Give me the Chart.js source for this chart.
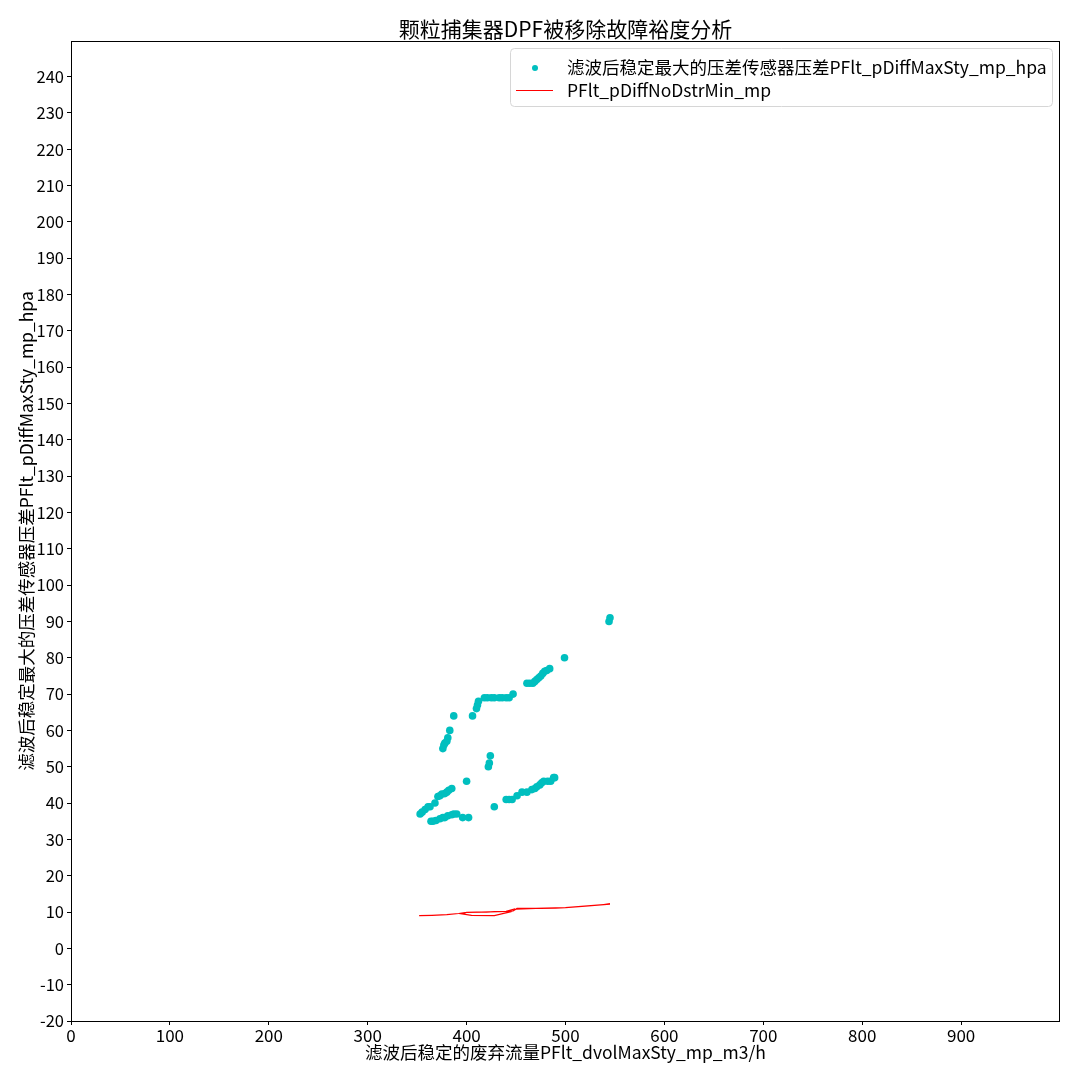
<!DOCTYPE html>
<html>
<head>
<meta charset="utf-8">
<script src="https://cdn.jsdelivr.net/npm/chart.js@4/dist/chart.umd.min.js"></script>
<style>
  html, body { margin: 0; padding: 0; background: #fff; }
  #wrap { width: 1080px; height: 1080px; }
</style>
</head>
<body>
<div id="wrap"><canvas id="myChart" width="1080" height="1080"></canvas></div>
<script>
var titleText = '颗粒捕集器DPF被移除故障裕度分析';
var xLabel = '滤波后稳定的废弃流量PFlt_dvolMaxSty_mp_m3/h';
var yLabel = '滤波后稳定最大的压差传感器压差PFlt_pDiffMaxSty_mp_hpa';
var scatterName = '滤波后稳定最大的压差传感器压差PFlt_pDiffMaxSty_mp_hpa';
var lineName = 'PFlt_pDiffNoDstrMin_mp';

// scatter: flow vs max pressure diff
var flowX = [376, 377, 378, 380, 381, 383, 387, 406, 410, 411, 412,
  418, 421, 425, 428, 433, 436, 440, 443, 447,
  461, 464, 467, 469, 471, 473, 475, 477, 479, 481, 484, 499, 544, 545,
  422, 423, 424, 400,
  353, 355, 358, 361, 363, 368, 371, 373, 375, 378, 380, 382, 385,
  364, 366, 369, 373, 376, 378, 381, 385, 387, 390, 396, 402,
  428, 440, 443, 446, 451, 456, 461, 466, 469, 471, 474, 476, 478, 482, 485, 488, 489];
var pDiffMax = [55, 56, 56.5, 57, 58, 60, 64, 64, 66, 67, 68,
  69, 69, 69, 69, 69, 69, 69, 69, 70,
  73, 73, 73, 73.5, 74, 74.5, 75, 75.7, 76.3, 76.5, 77, 80, 90, 91,
  50, 51, 53, 46,
  37, 37.5, 38.2, 39, 39, 40, 41.8, 42, 42.5, 42.6, 43, 43.5, 44,
  35, 35, 35.2, 35.7, 36, 36, 36.5, 36.8, 37, 37, 36, 36,
  39, 41, 41, 41, 42, 43, 43, 43.7, 44, 44.5, 45, 45.6, 46, 46, 46, 47, 47];

// line: min pressure diff threshold (unsorted, as logged)
var lineX = [352, 365, 380, 392, 400, 410, 420, 428, 440, 447, 451, 460, 475, 490, 500, 520, 545,
  500, 470, 450, 445, 428, 405, 395, 400, 415, 440, 449];
var lineY = [9, 9.1, 9.3, 9.6, 9.9, 10, 10, 10.1, 10.2, 10.3, 11, 11, 11, 11.1, 11.2, 11.6, 12.2,
  11.2, 11, 10.8, 10.1, 9, 9.1, 9.5, 9.9, 10, 10.2, 10.9];

var xMin = 0, xMax = 1000, xStep = 100, xLastTick = 900;
var yMin = -20, yMax = 249.8, yStep = 10, yLastTick = 240;

var fontFam = '"Noto Sans CJK SC", "DejaVu Sans", sans-serif';
var cyan = '#00bfbf';
var red = '#ff0000';

var scatterPts = [];
for (var i = 0; i < flowX.length; i++) scatterPts.push({x: flowX[i], y: pDiffMax[i]});
var linePts = [];
for (var j = 0; j < lineX.length; j++) linePts.push({x: lineX[j], y: lineY[j]});

// title over the axes, frame round the plot, legend box inside upper right
var framePlugin = {
  id: 'frameLegend',
  afterDraw: function (chart) {
    var ctx = chart.ctx;
    var a = chart.chartArea;
    ctx.save();
    ctx.strokeStyle = '#000';
    ctx.lineWidth = 1;
    ctx.strokeRect(a.left + 0.5, a.top + 0.5, a.right - a.left - 1, a.bottom - a.top);

    ctx.fillStyle = '#000';
    ctx.textAlign = 'center';
    ctx.textBaseline = 'middle';
    ctx.font = '21px ' + fontFam;
    ctx.fillText(titleText, (a.left + a.right) / 2, 29);

    // legend
    var bx = 510, by = 48, bw = 542, bh = 58;
    ctx.fillStyle = 'rgba(255,255,255,0.8)';
    ctx.strokeStyle = '#d6d6d6';
    ctx.beginPath();
    ctx.roundRect(bx + 0.5, by + 0.5, bw, bh, 4);
    ctx.fill();
    ctx.stroke();

    ctx.font = '17.5px ' + fontFam;
    ctx.textAlign = 'left';

    ctx.fillStyle = cyan;
    ctx.beginPath();
    ctx.arc(535, 68, 3, 0, Math.PI * 2);
    ctx.fill();
    ctx.fillStyle = '#000';
    ctx.fillText(chart.data.datasets[0].label, 567, 67);

    ctx.strokeStyle = red;
    ctx.lineWidth = 1.2;
    ctx.beginPath();
    ctx.moveTo(516, 90.5);
    ctx.lineTo(553, 90.5);
    ctx.stroke();
    ctx.fillText(chart.data.datasets[1].label, 567, 90);
    ctx.restore();
  }
};

new Chart('myChart', {
  type: 'scatter',
  data: {
    datasets: [{
      label: scatterName,
      data: scatterPts,
      backgroundColor: cyan,
      borderWidth: 0,
      pointRadius: 3.8,
      pointHoverRadius: 3.8
    }, {
      label: lineName,
      data: linePts,
      showLine: true,
      borderColor: red,
      borderWidth: 1.2,
      pointRadius: 0,
      fill: false,
      tension: 0
    }]
  },
  options: {
    responsive: false,
    animation: false,
    devicePixelRatio: 1,
    layout: { padding: { left: 0, right: 20, top: 41, bottom: 0 } },
    plugins: {
      legend: { display: false },
      tooltip: { enabled: false },
      title: { display: false }
    },
    scales: {
      x: {
        type: 'linear',
        min: xMin,
        max: xMax,
        afterFit: function (s) { s.height = 59; },
        afterBuildTicks: function (s) { s.ticks = s.ticks.filter(function (t) { return t.value <= xLastTick; }); },
        ticks: { stepSize: xStep, color: '#000', padding: 0, maxRotation: 0, includeBounds: false,
          font: { family: fontFam, size: 17 } },
        grid: { drawOnChartArea: false, drawTicks: true, tickLength: 4, color: '#000' },
        border: { display: false },
        title: { display: true, text: xLabel, color: '#000', padding: { top: 17, bottom: 17 },
          font: { family: fontFam, size: 17.5, lineHeight: 1.2 } }
      },
      y: {
        type: 'linear',
        min: yMin,
        max: yMax,
        afterFit: function (s) { s.width = 71; },
        afterBuildTicks: function (s) { s.ticks = s.ticks.filter(function (t) { return t.value <= yLastTick; }); },
        ticks: { stepSize: yStep, color: '#000', padding: 3, includeBounds: false,
          font: { family: fontFam, size: 16.5 } },
        grid: { drawOnChartArea: false, drawTicks: true, tickLength: 4, color: '#000' },
        border: { display: false },
        title: { display: true, text: yLabel, color: '#000', padding: { top: 16, bottom: 16 },
          font: { family: fontFam, size: 17.5, lineHeight: 1.2 } }
      }
    }
  },
  plugins: [framePlugin]
});
</script>
</body>
</html>
